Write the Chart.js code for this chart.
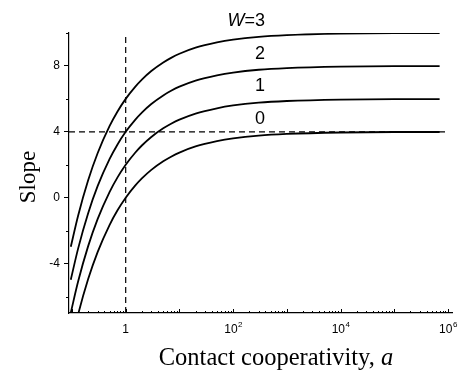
<!DOCTYPE html>
<html>
<head>
<meta charset="utf-8">
<script src="https://cdn.jsdelivr.net/npm/chart.js@4/dist/chart.umd.min.js"></script>
<style>
  html, body { margin: 0; padding: 0; background: #fff; }
  #wrap { width: 462px; height: 374px; }
</style>
</head>
<body>
<div id="wrap"><canvas id="c" width="462" height="374"></canvas></div>
<script>
// Contact cooperativity values a (log-scaled x axis)
const contactA = [0.095, 0.13, 0.2, 0.3, 0.5, 0.7, 1, 1.5, 2, 3, 5, 7, 10, 20, 50, 100, 300, 1000, 1e4, 1e5, 7e5];

// Slope for each W
const slopeW0 = [-8.98, -7.09, -4.94, -3.30, -1.66, -0.78, 0, 0.73, 1.17, 1.69, 2.21, 2.49, 2.74, 3.11, 3.43, 3.60, 3.77, 3.87, 3.96, 3.99, 3.99];
const slopeW1 = [-6.98, -5.09, -2.94, -1.30, 0.34, 1.22, 2, 2.73, 3.17, 3.69, 4.21, 4.49, 4.74, 5.11, 5.43, 5.60, 5.77, 5.87, 5.96, 5.99, 5.99];
const slopeW2 = [-4.98, -3.09, -0.94, 0.70, 2.34, 3.22, 4, 4.73, 5.17, 5.69, 6.21, 6.49, 6.74, 7.11, 7.43, 7.60, 7.77, 7.87, 7.96, 7.99, 7.99];
const slopeW3 = [-2.98, -1.09, 1.06, 2.70, 4.34, 5.22, 6, 6.73, 7.17, 7.69, 8.21, 8.49, 8.74, 9.11, 9.43, 9.60, 9.77, 9.87, 9.96, 9.99, 9.99];

const curveNames = ['0', '1', '2', '3'];
const curvePlateaus = [4, 6, 8, 10];

// Reference guide lines
const guideSlope = 4;
const guideA = 1;

// Axis ticks
const yTicks = [-4, 0, 4, 8];
const yMinorTicks = [-6, -2, 2, 6, 10];
const xTickExponents = [0, 2, 4, 6];
const xLimits = [0.088, 1.19e6];
const yLimits = [-7, 10];

const serif = '"Liberation Serif", "Times New Roman", Times, serif';
const sans = '"Liberation Sans", Arial, Helvetica, sans-serif';

const toPoints = (ys) => contactA.map((a, i) => ({ x: a, y: ys[i] }));

const curveStyle = {
  borderColor: '#000',
  borderWidth: 1.8,
  pointRadius: 0,
  fill: false,
  cubicInterpolationMode: 'monotone'
};
const dashStyle = {
  borderColor: '#000',
  borderWidth: 1.2,
  borderDash: [6, 4],
  pointRadius: 0,
  fill: false
};

const datasets = [
  Object.assign({ label: 'guideH', data: [{ x: xLimits[0], y: guideSlope }, { x: 1e6, y: guideSlope }] }, dashStyle),
  Object.assign({ label: 'guideV', data: [{ x: guideA, y: yLimits[0] }, { x: guideA, y: yLimits[1] }] }, dashStyle),
  Object.assign({ label: 'W=0', data: toPoints(slopeW0) }, curveStyle),
  Object.assign({ label: 'W=1', data: toPoints(slopeW1) }, curveStyle),
  Object.assign({ label: 'W=2', data: toPoints(slopeW2) }, curveStyle),
  Object.assign({ label: 'W=3', data: toPoints(slopeW3) }, curveStyle)
];

// Extra decorations: inward log ticks, minor y ticks, superscript labels, titles, curve labels
const decorations = {
  id: 'decorations',
  afterDraw(chart) {
    const ctx = chart.ctx;
    const xs = chart.scales.x, ys = chart.scales.y;
    ctx.save();
    ctx.strokeStyle = '#000';
    ctx.fillStyle = '#000';
    ctx.lineWidth = 1;

    // minor y ticks (outward)
    ctx.beginPath();
    yMinorTicks.forEach(v => {
      const py = Math.round(ys.getPixelForValue(v)) + 0.5;
      ctx.moveTo(xs.left - 3, py);
      ctx.lineTo(xs.left, py);
    });
    ctx.stroke();

    // log ticks on x axis (inward)
    ctx.beginPath();
    for (let d = -1; d <= 6; d++) {
      for (let k = 1; k <= 9; k++) {
        const v = k * Math.pow(10, d);
        if (v < xLimits[0] || v > xLimits[1]) continue;
        const px = Math.round(xs.getPixelForValue(v)) + 0.5;
        const len = k === 1 ? 4 : 2;
        ctx.moveTo(px, ys.bottom);
        ctx.lineTo(px, ys.bottom - len);
      }
    }
    ctx.stroke();

    // x tick labels with superscript exponents
    const labelY = ys.bottom + 17;
    ctx.textBaseline = 'middle';
    xTickExponents.forEach(e => {
      const px = xs.getPixelForValue(Math.pow(10, e));
      if (e === 0) {
        ctx.font = '12px ' + sans;
        ctx.textAlign = 'center';
        ctx.fillText('1', px, labelY);
        return;
      }
      ctx.font = '12px ' + sans;
      const baseW = ctx.measureText('10').width;
      ctx.font = '8px ' + sans;
      const expW = ctx.measureText(String(e)).width;
      const start = px - (baseW + expW) / 2;
      ctx.textAlign = 'left';
      ctx.font = '12px ' + sans;
      ctx.fillText('10', start, labelY);
      ctx.font = '8px ' + sans;
      ctx.fillText(String(e), start + baseW + 0.5, labelY - 5);
    });

    // axis titles
    ctx.textBaseline = 'alphabetic';
    const titleFont = '24.5px ' + serif;
    ctx.font = titleFont;
    const t1 = 'Contact cooperativity, ';
    const w1 = ctx.measureText(t1).width;
    ctx.font = 'italic ' + titleFont;
    const w2 = ctx.measureText('a').width;
    const tx = 276 - (w1 + w2) / 2;
    ctx.textAlign = 'left';
    ctx.font = titleFont;
    ctx.fillText(t1, tx, 365);
    ctx.font = 'italic ' + titleFont;
    ctx.fillText('a', tx + w1, 365);

    ctx.save();
    ctx.translate(29, 177);
    ctx.rotate(-Math.PI / 2);
    ctx.font = '23px ' + serif;
    ctx.textAlign = 'center';
    ctx.textBaseline = 'middle';
    ctx.fillText('Slope', 0, 0);
    ctx.restore();

    // curve labels above each plateau
    const lx = xs.getPixelForValue(Math.pow(10, 2.5));
    ctx.textBaseline = 'middle';
    curveNames.forEach((name, i) => {
      const ly = ys.getPixelForValue(curvePlateaus[i] + 0.75);
      ctx.font = '18px ' + sans;
      ctx.textAlign = 'center';
      ctx.fillText(name, lx, ly);
      if (i === curveNames.length - 1) {
        const dw = ctx.measureText(name).width;
        ctx.textAlign = 'right';
        const eqW = ctx.measureText('=').width;
        ctx.fillText('=', lx - dw / 2, ly);
        ctx.font = 'italic 18px ' + sans;
        ctx.fillText('W', lx - dw / 2 - eqW, ly);
      }
    });
    ctx.restore();
  }
};

new Chart(document.getElementById('c'), {
  type: 'line',
  data: { datasets },
  options: {
    responsive: false,
    animation: false,
    parsing: true,
    layout: { padding: { left: 0, top: 33, right: 10, bottom: 0 } },
    plugins: { legend: { display: false }, tooltip: { enabled: false } },
    scales: {
      x: {
        type: 'logarithmic',
        min: xLimits[0],
        max: xLimits[1],
        grid: { display: false },
        border: { display: true, color: '#000', width: 1.2 },
        ticks: { display: false },
        afterFit(s) { s.height = 61; }
      },
      y: {
        type: 'linear',
        min: yLimits[0],
        max: yLimits[1],
        afterBuildTicks(s) { s.ticks = yTicks.map(v => ({ value: v })); },
        grid: { display: true, drawOnChartArea: false, drawTicks: true, tickLength: 5, color: '#000', lineWidth: 1 },
        border: { display: true, color: '#000', width: 1.2 },
        ticks: { color: '#000', padding: 4, font: { family: sans, size: 12 } },
        afterFit(s) { s.width = 69; }
      }
    }
  },
  plugins: [decorations]
});
</script>
</body>
</html>
